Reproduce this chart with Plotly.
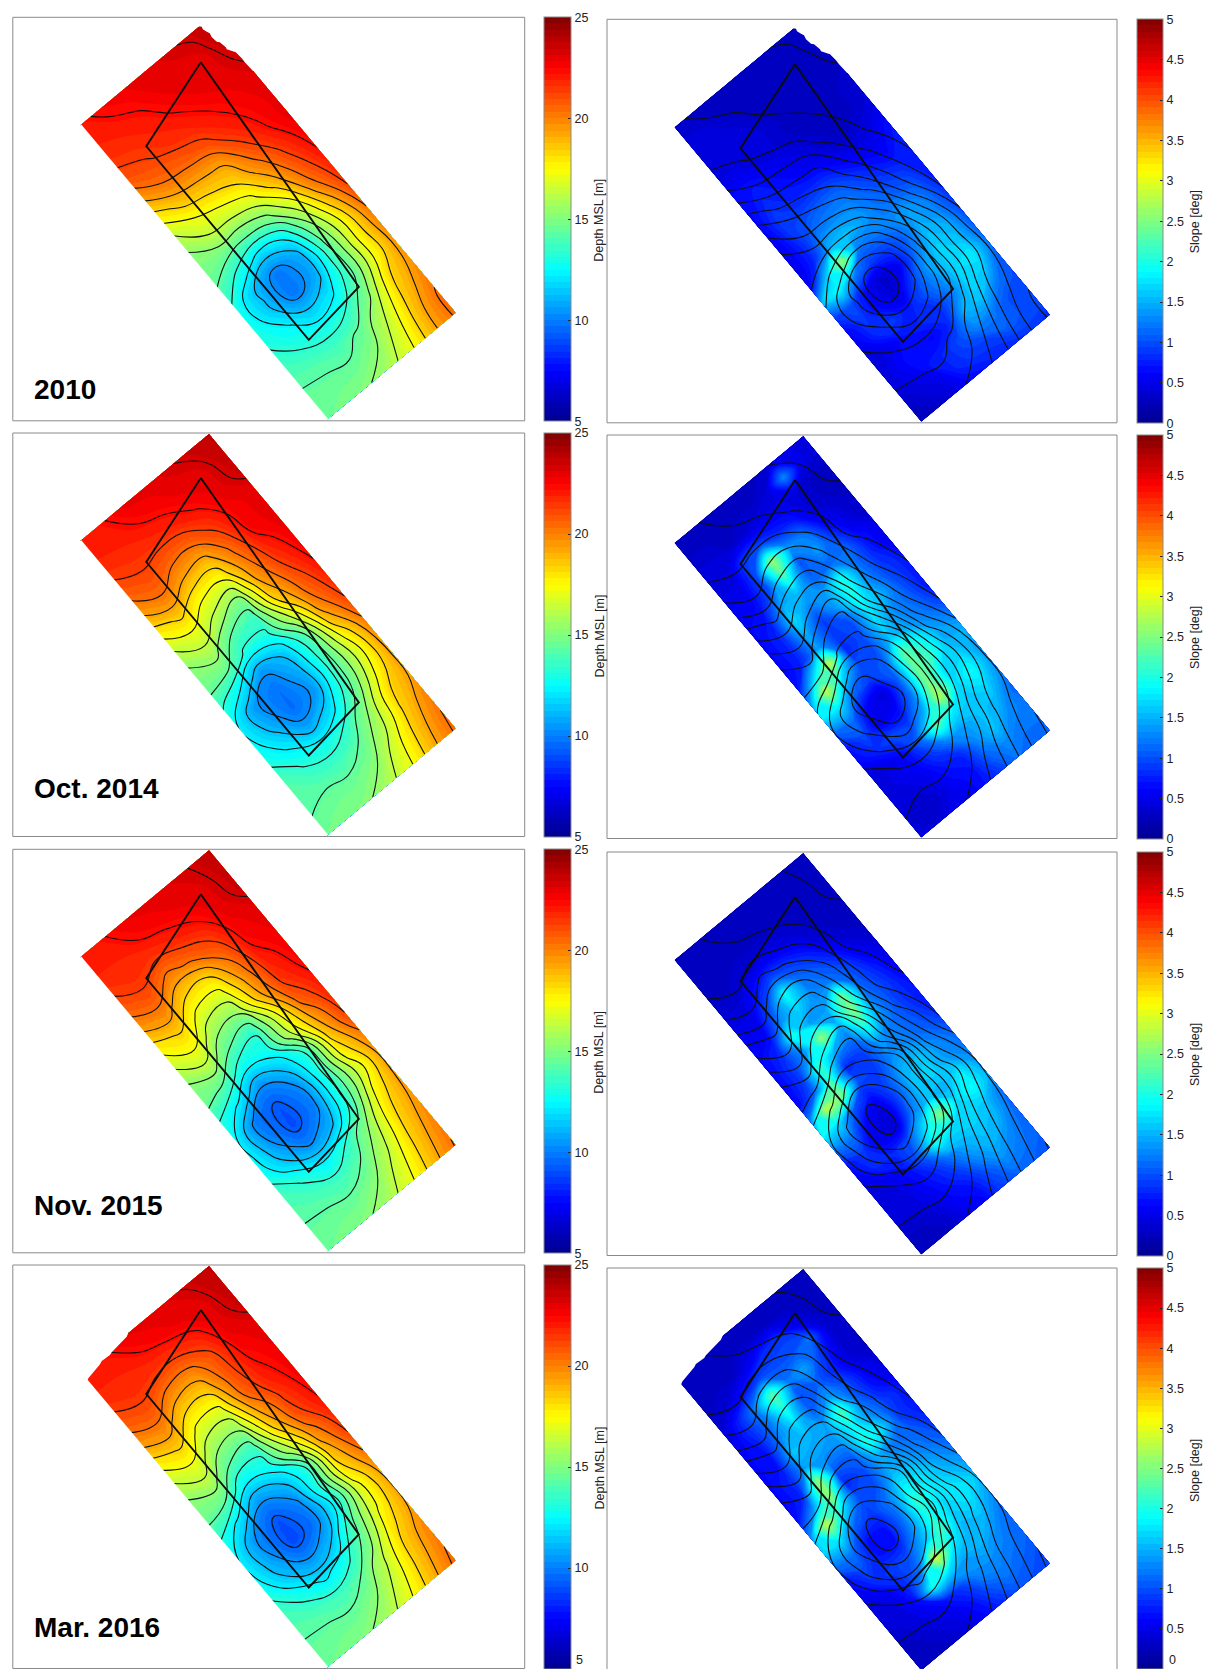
import numpy as np
import plotly.graph_objects as go

W, H = 1205, 1669

# ---------- depth readings (rows run along the long side, columns across it) ----------
DEPTH_2010 = [
[23.8,23.4,23.2,23.0,22.8,22.5,22.1],
[23.7,23.1,23.0,22.9,22.35,22.1,21.9],
[23.4,23.0,22.9,22.4,22.0,21.7,21.5],
[23.1,22.8,22.35,21.9,21.6,21.2,20.9],
[23.0,22.5,21.9,21.0,20.6,20.4,19.5],
[23.0,22.2,21.1,19.4,19.2,18.9,17.8],
[22.7,21.5,20.0,18.4,17.8,17.3,16.3],
[22.3,20.8,18.8,16.9,16.3,16.2,15.2],
[21.8,20.0,17.0,14.9,14.3,14.6,14.9],
[21.3,18.5,15.4,12.4,11.7,12.9,14.2],
[20.4,17.4,14.4,10.9,9.8,11.2,13.1],
[19.9,17.3,14.0,10.8,9.7,11.4,13.0],
[19.6,17.2,14.0,12.0,11.4,12.5,13.2],
[19.6,18.1,15.0,13.3,12.9,13.2,13.7],
[20.0,18.5,16.2,14.5,13.9,14.1,14.2],
[20.5,18.9,16.8,15.2,14.5,14.5,14.5],
[20.5,19.1,17.2,15.9,15.25,14.9,14.6],
]
DEPTH_2014 = [
[23.8,23.5,23.2,23.0,22.9,22.2,22.1],
[23.7,23.1,23.0,22.6,22.3,22.0,21.9],
[23.5,23.0,22.4,21.9,21.7,21.6,21.4],
[23.0,22.7,21.6,20.6,20.6,21.1,20.6],
[23.0,22.6,20.7,18.9,19.2,20.2,19.4],
[22.9,21.9,20.0,17.4,17.5,18.6,17.8],
[22.6,21.3,19.3,15.2,16.1,17.1,16.3],
[22.2,20.6,18.3,13.8,14.3,15.9,15.2],
[21.7,20.0,16.2,13.1,13.0,14.6,14.8],
[21.2,18.8,14.1,11.5,10.5,12.3,13.6],
[20.2,17.3,13.7,10.9,9.7,10.4,12.5],
[19.6,16.6,13.7,10.5,9.6,10.9,12.5],
[19.4,17.1,14.1,11.8,10.7,12.0,13.0],
[19.4,18.1,15.3,13.4,12.8,13.1,14.0],
[19.9,18.4,16.0,14.4,13.8,14.0,14.3],
[20.3,18.8,16.9,15.2,14.6,14.6,14.3],
[20.5,19.1,17.3,16.0,15.2,14.9,14.7],
]
DEPTH_2015 = [
[23.8,23.3,23.1,23.0,22.8,22.2,22.1],
[23.6,23.1,22.9,22.6,22.3,21.9,21.9],
[23.5,23.0,22.25,21.8,21.45,21.7,21.4],
[23.1,22.7,21.3,20.5,20.0,21.1,20.6],
[22.9,22.4,20.3,18.3,18.4,19.9,19.4],
[22.7,21.9,19.5,16.8,16.9,18.5,17.7],
[22.5,21.5,18.9,15.3,15.5,17.3,16.4],
[22.1,20.7,16.9,13.4,14.1,15.9,15.2],
[21.7,19.4,16.2,12.8,12.4,14.0,14.7],
[21.2,18.5,13.4,11.4,10.2,12.0,13.3],
[20.0,17.6,13.3,10.2,9.1,9.9,12.6],
[19.4,16.5,13.2,10.0,8.9,10.3,12.6],
[19.4,17.3,13.6,10.9,10.0,11.3,13.0],
[19.5,18.0,15.2,13.3,12.2,13.1,13.9],
[19.8,18.3,16.0,14.3,13.7,14.0,14.2],
[20.1,18.6,16.7,15.2,14.5,14.5,14.4],
[20.4,18.9,17.2,15.9,15.2,14.9,14.6],
]
DEPTH_2016 = [
[23.8,23.4,23.1,23.0,22.8,22.2,22.1],
[23.7,23.1,22.9,22.6,22.2,21.9,21.9],
[23.5,23.0,21.9,21.4,21.5,21.7,21.4],
[23.1,22.7,21.0,19.8,20.0,21.0,20.6],
[22.9,22.3,20.8,18.4,18.4,19.9,19.4],
[22.7,22.0,20.4,16.9,16.9,18.5,17.7],
[22.6,21.4,19.2,15.4,15.5,17.1,16.3],
[22.3,21.0,18.0,13.7,14.1,15.9,15.2],
[21.8,19.8,16.0,12.8,12.2,14.3,14.7],
[21.3,18.7,13.3,11.2,10.2,11.9,13.4],
[20.3,18.0,13.4,10.1,9.0,10.3,12.5],
[19.5,16.9,12.6,9.8,8.8,10.5,12.4],
[19.3,17.0,14.0,11.1,10.2,11.3,13.0],
[19.4,17.8,14.8,12.9,12.0,12.9,13.8],
[19.9,18.4,16.1,14.3,13.7,14.0,14.2],
[20.2,18.7,16.7,15.2,14.5,14.5,14.4],
[20.6,19.0,17.3,15.9,15.2,14.9,14.6],
]

# ---------- slope readings ----------
SLOPE_2010 = [
[.3,.3,.3,.3,.3,.3,.3,.3,.3],
[.3,.3,.3,.3,.3,.3,.3,.4,.4],
[.3,.3,.3,.3,.3,.3,.4,.4,.4],
[.3,.3,.3,.3,.3,.4,.4,.4,.4],
[.4,.3,.3,.3,.3,.4,.4,.5,.5],
[.4,.3,.3,.3,.4,.5,.6,.7,.7],
[.5,.4,.3,.4,.5,.6,.7,.8,.6],
[.7,.5,.5,.6,.8,.8,.8,.9,.6],
[.8,.6,.7,.9,1.1,1.1,1.0,.9,.5],
[.7,.8,.9,1.1,1.3,1.3,1.2,.8,.5],
[.7,1.0,1.1,1.2,1.4,1.6,1.5,.8,.5],
[.8,1.2,1.4,1.3,1.2,1.2,2.6,1.6,.6],
[.9,1.3,1.5,1.1,.9,.9,1.2,1.9,1.6],
[1.0,1.5,1.6,1.2,.6,.3,.6,1.0,.9],
[1.1,1.6,1.7,1.4,.9,.4,.6,.9,.6],
[1.2,1.8,1.7,1.3,1.0,.7,.9,.8,.5],
[1.0,1.6,1.7,1.2,.8,.8,.7,.5,.4],
[1.0,1.2,1.6,1.5,.8,.6,.7,.6,.4],
[1.0,1.0,1.2,1.3,1.0,.8,.7,.5,.4],
[1.0,1.0,1.1,.9,.9,.8,.5,.4,.3],
[.8,.9,.8,.8,.7,.6,.4,.3,.3],
]
SLOPE_2014 = [
[.4,.5,.4,.3,.3,.3,.3,.3,.3],
[.4,.5,1.3,.4,.3,.3,.3,.3,.3],
[.3,.3,.4,.5,.5,.4,.3,.4,.4],
[.3,.3,.4,.7,.8,1.0,.9,.4,.4],
[.3,.4,.6,1.2,1.4,2.6,1.0,.5,.5],
[.3,.5,.9,1.4,1.0,2.2,1.0,.6,.6],
[.5,.7,1.2,1.1,1.1,1.6,1.4,.7,.6],
[.5,.8,1.2,2.0,1.4,1.3,1.7,.8,.6],
[.7,.9,1.3,2.0,1.4,.9,1.5,.8,.6],
[.7,1.0,1.5,1.8,1.0,.9,1.4,.8,.6],
[.7,1.1,1.3,1.7,1.0,.8,2.8,1.7,.7],
[.9,1.2,1.4,1.6,1.0,1.0,1.7,2.8,1.4],
[1.2,1.4,1.9,2.3,1.1,.9,1.1,1.8,1.8],
[1.5,1.5,2.1,2.4,1.1,.4,.6,1.2,1.1],
[1.4,1.7,1.7,2.5,1.2,.6,.5,1.0,.7],
[1.4,1.9,1.7,2.7,1.5,.9,1.0,.8,.6],
[1.3,1.7,1.6,1.8,2.3,1.2,.7,.5,.4],
[1.1,1.5,1.6,1.4,1.3,.9,.6,.5,.4],
[1.2,1.3,1.6,1.3,.8,.7,.5,.4,.4],
[1.2,1.2,1.3,1.1,.7,.6,.4,.3,.4],
[1.1,1.1,1.2,.9,.7,.5,.5,.4,.5],
]
SLOPE_2015 = [
[.3,.3,.3,.3,.3,.3,.3,.3,.3],
[.3,.3,.3,.3,.3,.3,.3,.3,.3],
[.3,.3,.3,.3,.3,.3,.3,.3,.3],
[.3,.3,.3,.4,.5,.5,.4,.3,.3],
[.3,.3,.4,.7,.9,1.0,.7,.4,.4],
[.3,.4,.7,1.0,1.2,1.9,1.0,.5,.5],
[.4,.6,1.0,1.2,1.3,1.7,1.3,.6,.6],
[.5,.8,1.1,2.4,1.4,1.4,2.0,.8,.6],
[.6,.9,1.2,2.5,1.5,2.6,1.4,.9,.6],
[.7,.9,1.3,2.0,1.2,1.5,2.1,.9,.6],
[.7,1.0,1.2,1.4,.9,.8,2.2,1.1,.6],
[.9,1.1,1.3,1.3,.9,1.0,2.4,2.8,1.3],
[1.1,1.3,1.6,1.5,1.0,.7,1.0,1.7,1.9],
[1.2,1.4,1.7,1.6,1.0,.4,.6,1.2,1.2],
[1.4,1.8,1.5,1.6,1.2,.4,.5,.9,.7],
[1.5,1.9,1.7,2.5,1.7,1.0,.8,.8,.5],
[1.2,1.6,1.7,1.7,2.0,1.1,.7,.5,.4],
[1.1,1.5,1.6,1.5,1.2,.8,.6,.4,.4],
[1.1,1.3,1.5,1.3,.9,.7,.5,.4,.4],
[1.1,1.2,1.3,1.0,.7,.6,.4,.3,.3],
[1.0,1.1,1.1,.9,.6,.5,.3,.3,.3],
]
SLOPE_2016 = [
[.3,.3,.3,.3,.3,.3,.3,.3,.3],
[.3,.3,.3,.3,.3,.3,.3,.3,.3],
[.3,.3,.5,.9,.8,.5,.3,.3,.3],
[.3,.4,1.2,1.0,1.0,1.0,.7,.4,.3],
[.3,.4,.9,1.4,1.2,2.3,1.3,.8,.4],
[.3,.4,.8,1.1,1.0,2.0,1.2,.8,.5],
[.4,.6,1.0,1.4,1.1,1.7,1.3,.7,.6],
[.5,.7,1.1,2.2,1.4,1.5,1.6,.7,.6],
[.7,.9,1.3,1.9,1.4,1.4,1.4,.8,.6],
[.7,.9,1.7,2.0,1.1,1.1,2.6,.8,.6],
[.8,1.1,1.2,1.5,1.0,.8,2.6,1.4,.7],
[1.0,1.2,1.4,1.5,1.0,1.0,1.8,2.8,1.3],
[1.2,1.4,1.7,1.8,1.2,.9,1.1,1.8,1.7],
[1.4,1.6,1.8,2.1,1.2,.7,.7,1.2,1.2],
[1.6,1.8,1.7,2.0,1.3,.7,.7,1.0,.7],
[1.4,1.7,1.6,2.2,1.5,1.0,.9,.8,.5],
[1.2,1.5,1.5,1.8,2.9,1.2,.8,.5,.4],
[1.1,1.3,1.5,1.4,1.7,2.0,.7,.4,.4],
[1.1,1.2,1.3,1.3,.9,.7,.5,.4,.3],
[1.0,1.1,1.2,1.0,.7,.5,.4,.3,.3],
[1.0,1.0,1.0,.8,.6,.4,.3,.3,.3],
]

LABELS = ["2010", "Oct. 2014", "Nov. 2015", "Mar. 2016"]
LABEL_Y = [389, 788, 1205, 1627]
DEPTH_TICKS = [5, 10, 15, 20, 25]
SLOPE_TICKS = [0, 0.5, 1, 1.5, 2, 2.5, 3, 3.5, 4, 4.5, 5]
SLOPE_TEXT = ["0", "0.5", "1", "1.5", "2", "2.5", "3", "3.5", "4", "4.5", "5"]

# survey frame corners and study polygon, in local plan units
CORNER_T, CORNER_L, CORNER_R = (196.2, 1.0), (67.5, 108.0), (443.0, 295.5)
POLY_X = [188, 133.5, 296, 346, 188]
POLY_Y = [45, 129, 322.5, 269.5, 45]
# areas without survey coverage
GAP_NORTH_X = [196, 185.5, 189, 190, 194, 197, 199, 204, 207, 213, 214, 220.5, 223, 229, 232, 240, 250, 205]
GAP_NORTH_Y = [0, 9, 9.5, 12, 14.5, 16, 20, 24.5, 25, 30, 32, 34.5, 35, 41, 45, 53.5, 50, -4]
GAP_WEST_X = [115.5, 113.9, 98.9, 97.2, 88.9, 87.2, 75.5, 73.9, 60, 105]
GAP_WEST_Y = [68, 71.7, 87.3, 90, 96, 99.3, 113.3, 116.7, 105, 62]

JET = [[0, "#00008f"], [0.125, "#0000ff"], [0.375, "#00ffff"],
       [0.625, "#ffff00"], [0.875, "#ff0000"], [1, "#800000"]]
FONT = "Liberation Sans, Arial, sans-serif"
BOX = "#8a8a8a"

LEFT = dict(x0=12.8, x1=524.7, tops=[17.3, 433.0, 849.3, 1265.0], cx=544.0, cw=26.7, tx=599.5, lx=574.0)
RIGHT = dict(x0=607.0, x1=1117.0, tops=[19.3, 435.0, 852.0, 1268.0], cx=1136.7, cw=26.0, tx=1195.0, lx=1167.0)
ROW_H = 403.5

fig = go.Figure()
layout = {}
shapes = []
annotations = []


def px(v):
    return v / W


def py(v):
    return 1 - v / H


def carpet(name, nb, na, xa, ya):
    a = np.linspace(0, 1, na)
    b = np.linspace(0, 1, nb)
    aa, bb = np.meshgrid(a, b)
    x = CORNER_T[0] + aa * (CORNER_L[0] - CORNER_T[0]) + bb * (CORNER_R[0] - CORNER_T[0])
    y = CORNER_T[1] + aa * (CORNER_L[1] - CORNER_T[1]) + bb * (CORNER_R[1] - CORNER_T[1])
    ax = dict(showgrid=False, showline=False, showticklabels="none", startline=False, endline=False,
              minorgridcount=0, smoothing=0, tickmode="array", tickvals=[])
    fig.add_trace(go.Carpet(a=a, b=b, x=x, y=y, carpet=name, aaxis=ax, baxis=ax, xaxis=xa, yaxis=ya))


def filled(z, name, lo, hi, xa, ya, cb):
    size = (hi - lo) / 64
    fig.add_trace(go.Contourcarpet(
        z=z, carpet=name, xaxis=xa, yaxis=ya, autocontour=False, colorscale=JET, zmin=lo, zmax=hi,
        contours=dict(start=lo, end=hi, size=size, coloring="fill", showlines=False),
        line=dict(width=0), colorbar=cb))


def lines(z, name, xa, ya):
    fig.add_trace(go.Contourcarpet(
        z=z, carpet=name, xaxis=xa, yaxis=ya, autocontour=False, showscale=False, colorscale=JET,
        contours=dict(start=8.3, end=24.3, size=1, coloring="none"),
        line=dict(color="#101010", width=1.1, smoothing=1.3)))


def panel(col, row, idx):
    top = col["tops"][row]
    bottom = min(top + ROW_H, H)
    xa, ya = f"x{idx}", f"y{idx}"
    layout[f"xaxis{idx}"] = dict(domain=[px(col["x0"]), px(col["x1"])], range=[0, col["x1"] - col["x0"]],
                                 visible=False, fixedrange=True, anchor=ya)
    layout[f"yaxis{idx}"] = dict(domain=[py(bottom), py(top)], range=[bottom - top, 0],
                                 visible=False, fixedrange=True, anchor=xa)
    sides = [(col["x0"], top, col["x1"], top), (col["x0"], top, col["x0"], bottom), (col["x1"], top, col["x1"], bottom)]
    if bottom < H:
        sides.append((col["x0"], bottom, col["x1"], bottom))
    for s in sides:
        shapes.append(dict(type="line", xref="paper", yref="paper", x0=px(s[0]), y0=py(s[1]), x1=px(s[2]), y1=py(s[3]),
                           line=dict(color=BOX, width=1)))
    return xa, ya, top, bottom


def colorbar(col, top, bottom, ticks, text=None):
    return dict(x=px(col["cx"]), xanchor="left", xpad=0, y=py(top), yanchor="top", ypad=0,
                len=(bottom - top) / H, lenmode="fraction", thickness=col["cw"], thicknessmode="pixels",
                outlinecolor=BOX, outlinewidth=1, ticks="inside", ticklen=3, tickcolor="#222222",
                tickmode="array", tickvals=ticks, ticktext=text if text else [str(t) for t in ticks],
                tickfont=dict(family=FONT, size=12.5, color="#222222"))


def overlay(xa, ya, gap, trim_edge=False):
    if trim_edge:
        # clean white trim along the south-west side of the frame
        lx, ly = CORNER_L
        bx = CORNER_R[0] + CORNER_L[0] - CORNER_T[0]
        by = CORNER_R[1] + CORNER_L[1] - CORNER_T[1]
        fig.add_trace(go.Scatter(x=[lx, bx], y=[ly, by], xaxis=xa, yaxis=ya, mode="lines",
                                 line=dict(color="white", width=2.6), hoverinfo="skip"))
    if gap is not None:
        fig.add_trace(go.Scatter(x=gap[0], y=gap[1], xaxis=xa, yaxis=ya, mode="lines", fill="toself",
                                 fillcolor="white", line=dict(width=0, color="white"), hoverinfo="skip"))
    fig.add_trace(go.Scatter(x=POLY_X, y=POLY_Y, xaxis=xa, yaxis=ya, mode="lines",
                             line=dict(color="#0c0c0c", width=1.9), hoverinfo="skip"))


def side_text(text, x, y, **kw):
    annotations.append(dict(text=text, xref="paper", yref="paper", x=px(x), y=py(y), showarrow=False,
                            font=dict(family=FONT, size=12.5, color="#222222"), **kw))


DEPTHS = [DEPTH_2010, DEPTH_2014, DEPTH_2015, DEPTH_2016]
SLOPES = [SLOPE_2010, SLOPE_2014, SLOPE_2015, SLOPE_2016]
GAPS = [(GAP_NORTH_X, GAP_NORTH_Y), None, None, (GAP_WEST_X, GAP_WEST_Y)]

for r in range(4):
    gap = GAPS[r]
    # depth panel
    xa, ya, top, bottom = panel(LEFT, r, 2 * r + 1)
    name = f"d{r}"
    carpet(name, len(DEPTHS[r]), len(DEPTHS[r][0]), xa, ya)
    filled(DEPTHS[r], name, 5, 25, xa, ya, colorbar(LEFT, top, bottom, DEPTH_TICKS))
    lines(DEPTHS[r], name, xa, ya)
    overlay(xa, ya, gap, trim_edge=True)
    side_text("Depth MSL [m]", LEFT["tx"], top + 203, textangle=-90, xanchor="center", yanchor="middle")
    annotations.append(dict(text=f"<b>{LABELS[r]}</b>", xref="paper", yref="paper", x=px(32), y=py(LABEL_Y[r]),
                            showarrow=False, xanchor="left", yanchor="middle",
                            font=dict(family=FONT, size=28, color="black")))
    # slope panel
    xa, ya, top, bottom = panel(RIGHT, r, 2 * r + 2)
    name_s, name_l = f"s{r}", f"l{r}"
    carpet(name_s, len(SLOPES[r]), len(SLOPES[r][0]), xa, ya)
    carpet(name_l, len(DEPTHS[r]), len(DEPTHS[r][0]), xa, ya)
    filled(SLOPES[r], name_s, 0, 5, xa, ya, colorbar(RIGHT, top, bottom, SLOPE_TICKS, SLOPE_TEXT))
    lines(DEPTHS[r], name_l, xa, ya)
    overlay(xa, ya, gap)
    side_text("Slope [deg]", RIGHT["tx"], top + 203, textangle=-90, xanchor="center", yanchor="middle")

# bottom tick labels of the last row sit just inside the page edge
side_text(str(DEPTH_TICKS[0]), LEFT["lx"], H - 9, xanchor="left", yanchor="middle")
side_text(SLOPE_TEXT[0], RIGHT["lx"], H - 9, xanchor="left", yanchor="middle")

fig.update_layout(width=W, height=H, autosize=False, margin=dict(l=0, r=0, t=0, b=0), showlegend=False,
                  paper_bgcolor="white", plot_bgcolor="white", shapes=shapes, annotations=annotations, **layout)
fig.write_html("out.html", config={"displayModeBar": False},
               post_script="document.body.style.margin='0';document.body.style.overflow='hidden';")
